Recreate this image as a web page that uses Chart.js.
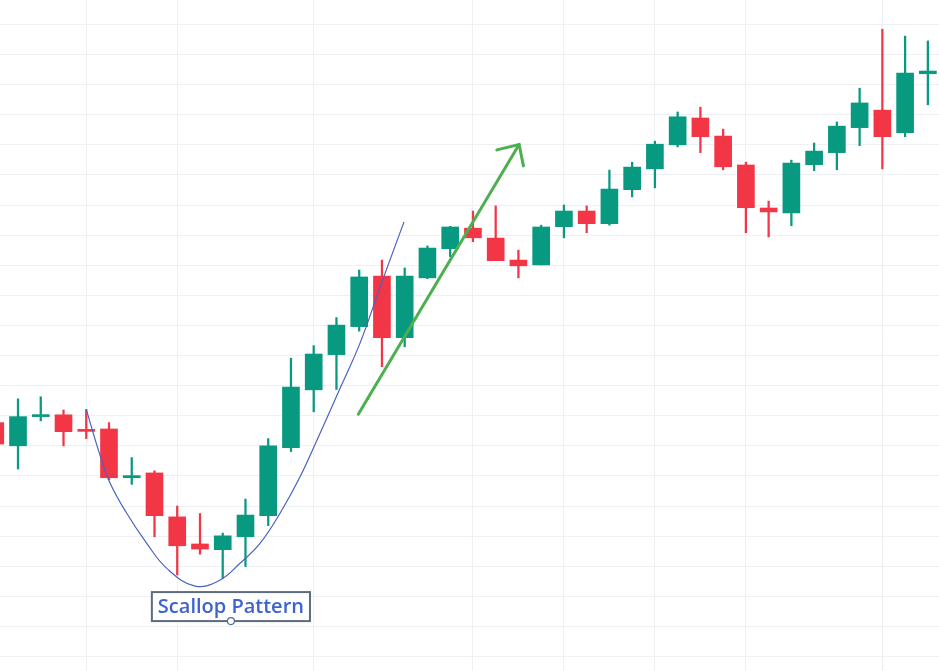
<!DOCTYPE html>
<html>
<head>
<meta charset="utf-8">
<script src="https://cdn.jsdelivr.net/npm/chart.js@4"></script>
<style>
  html, body { margin: 0; padding: 0; background: #ffffff; }
  #wrap { width: 939px; height: 671px; position: relative; }
</style>
</head>
<body>
<div id="wrap"><canvas id="chart"></canvas></div>
<script>
// candle values, one entry per session
const opens  = [287.7, 280.0, 289.7, 290.3, 285.3, 285.6, 269.4, 271.0, 256.4, 247.4, 245.5, 249.8, 256.8, 279.4, 298.6, 310.3, 319.6, 336.4, 315.9, 335.8, 345.5, 352.3, 349.0, 341.7, 340.1, 352.8, 358.0, 353.8, 365.1, 372.0, 380.0, 388.9, 382.9, 373.3, 359.0, 357.4, 373.4, 377.4, 385.7, 391.5, 384.0, 403.6];
const highs  = [288.6, 295.6, 296.3, 291.9, 292.1, 287.7, 276.1, 271.7, 260.0, 257.5, 251.0, 262.3, 282.4, 309.1, 313.3, 322.6, 338.4, 341.7, 339.1, 346.4, 352.9, 358.0, 359.7, 345.0, 353.3, 360.0, 359.7, 371.6, 374.2, 381.2, 390.9, 392.5, 385.2, 374.2, 361.3, 374.9, 380.6, 387.6, 398.8, 418.4, 416.1, 414.5];
const lows   = [279.8, 272.3, 288.3, 280.0, 282.4, 268.7, 267.2, 249.8, 237.1, 244.0, 236.0, 239.9, 253.5, 278.1, 291.3, 298.7, 318.1, 306.3, 312.9, 335.5, 342.8, 347.8, 341.5, 335.8, 340.1, 349.1, 350.8, 353.3, 362.7, 365.7, 379.3, 377.4, 371.7, 350.8, 349.4, 353.1, 371.4, 371.7, 379.7, 372.0, 382.7, 393.3];
const closes = [280.6, 289.7, 290.3, 284.7, 284.8, 269.4, 270.1, 256.8, 246.8, 245.7, 250.1, 257.0, 280.0, 299.5, 310.5, 320.1, 336.1, 315.9, 336.4, 345.7, 352.7, 349.1, 341.5, 339.8, 352.7, 358.0, 353.8, 365.3, 372.6, 380.2, 389.3, 382.7, 372.7, 359.1, 357.7, 373.9, 377.9, 386.2, 393.9, 382.7, 403.8, 404.5];

// grid positions (session index / price)
const gridSessions = [4, 8, 14, 21, 25, 29, 33, 39];
const gridPrices = [210, 220, 230, 240, 250, 260, 270, 280, 290, 300, 310, 320, 330, 340, 350, 360, 370, 380, 390, 400, 410, 420];

// drawing annotations
const scallopX = [4.0, 4.6, 5.05, 5.78, 6.66, 7.54, 8.78, 9.88, 10.76, 11.64, 12.52, 13.4, 14.28, 15.16, 16.04, 16.92, 17.97];
const scallopY = [292.1, 277.0, 267.6, 257.6, 247.6, 239.3, 233.4, 235.4, 241.0, 247.6, 257.6, 269.7, 284.2, 299.1, 314.2, 332.8, 354.4];
const arrowX = [15.96, 23.03];
const arrowY = [290.5, 380.1];
const arrowHeadX = [22.05, 23.03, 23.22];
const arrowHeadY = [378.3, 380.1, 373.0];
const labelText = "Scallop Pattern";
const labelAt = { x: 10.36, y: 226.6 };

const UP = "#089981";
const DOWN = "#f23645";

const candleColors = opens.map((o, i) => closes[i] >= o ? UP : DOWN);
const bodies = opens.map((o, i) => ({ x: i, y: [o, closes[i]] }));
const wicks = lows.map((l, i) => ({ x: i, y: [l, highs[i]] }));
const toPoints = (xs, ys) => xs.map((x, i) => ({ x: x, y: ys[i] }));

const labelPlugin = {
    id: "scallopLabel",
    afterDatasetsDraw(chart) {
        const ctx = chart.ctx;
        const cx = chart.scales.x.getPixelForValue(labelAt.x);
        const cy = chart.scales.y.getPixelForValue(labelAt.y);
        ctx.save();
        ctx.font = "600 20px 'Open Sans'";
        const w = ctx.measureText(labelText).width + 12;
        const h = 29;
        ctx.fillStyle = "#ffffff";
        ctx.fillRect(cx - w / 2, cy - h / 2, w, h);
        ctx.strokeStyle = "#5d6b7b";
        ctx.lineWidth = 2;
        ctx.strokeRect(cx - w / 2, cy - h / 2, w, h);
        ctx.fillStyle = "#3d64cc";
        ctx.textAlign = "center";
        ctx.textBaseline = "middle";
        ctx.fillText(labelText, cx, cy + 1);
        // small handle under the box
        ctx.beginPath();
        ctx.arc(cx, cy + h / 2, 3.5, 0, Math.PI * 2);
        ctx.fillStyle = "#ffffff";
        ctx.fill();
        ctx.lineWidth = 1.2;
        ctx.strokeStyle = "#4f6a9a";
        ctx.stroke();
        ctx.restore();
    }
};

new Chart(document.getElementById("chart"), {
    type: "bar",
    data: {
        datasets: [
            {
                type: "line",
                data: toPoints(scallopX, scallopY),
                borderColor: "#4a62c0",
                borderWidth: 1.2,
                pointRadius: 0,
                tension: 0.4,
                order: 0
            },
            {
                type: "line",
                data: toPoints(arrowX, arrowY),
                borderColor: "#4caf50",
                borderWidth: 3,
                borderCapStyle: "round",
                pointRadius: 0,
                order: 0
            },
            {
                type: "line",
                data: toPoints(arrowHeadX, arrowHeadY),
                borderColor: "#4caf50",
                borderWidth: 3,
                borderCapStyle: "round",
                borderJoinStyle: "miter",
                pointRadius: 0,
                order: 0
            },
            {
                data: bodies,
                backgroundColor: candleColors,
                borderWidth: 0,
                barThickness: 17,
                minBarLength: 2,
                grouped: false,
                order: 1
            },
            {
                data: wicks,
                backgroundColor: candleColors,
                borderWidth: 0,
                barThickness: 1.6,
                grouped: false,
                order: 2
            }
        ]
    },
    options: {
        responsive: true,
        maintainAspectRatio: false,
        animation: false,
        layout: { padding: 0 },
        plugins: {
            legend: { display: false },
            tooltip: { enabled: false }
        },
        scales: {
            x: {
                type: "linear",
                offset: false,
                min: 0.208,
                max: 41.49,
                afterBuildTicks: s => { s.ticks = gridSessions.map(v => ({ value: v })); },
                ticks: { display: false },
                grid: { color: "#eef0f4", drawTicks: false, offset: false },
                border: { display: false }
            },
            y: {
                min: 205.2,
                max: 428.1,
                afterBuildTicks: s => { s.ticks = gridPrices.map(v => ({ value: v })); },
                ticks: { display: false },
                grid: { color: "#eef0f4", drawTicks: false },
                border: { display: false }
            }
        }
    },
    plugins: [labelPlugin]
});
</script>
</body>
</html>
